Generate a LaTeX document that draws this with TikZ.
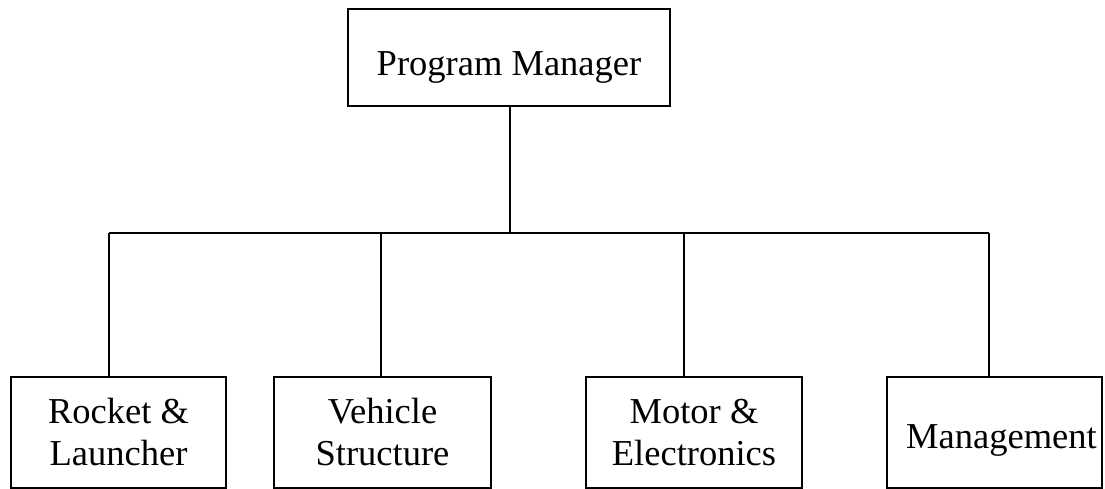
\documentclass[tikz,border=0pt]{standalone}
\usepackage{fontspec}
\setmainfont{Liberation Serif}
\begin{document}
\begin{tikzpicture}[x=1pt,y=-1pt,
  box/.style={draw=black,line width=1.6pt,rectangle,inner sep=0pt,
    align=center,font=\fontsize{36.5}{42}\selectfont},
  conn/.style={draw=black,line width=1.8pt}]
\useasboundingbox (0,0) rectangle (1105,489);
\node[box,minimum width=322pt,minimum height=97pt] (pm) at (509,57.5) {\raisebox{-18.5pt}[0pt][0pt]{Program Manager}};
\node[box,minimum width=215pt,minimum height=111pt] (rl) at (118.5,432.5) {Rocket \&\\Launcher};
\node[box,minimum width=217pt,minimum height=111pt] (vs) at (382.5,432.5) {Vehicle\\Structure};
\node[box,minimum width=216pt,minimum height=111pt] (me) at (694,432.5) {Motor \&\\Electronics};
\node[box,minimum width=215pt,minimum height=111pt] (mg) at (994.5,432.5) {\hspace*{14pt}\raisebox{-16pt}[0pt][0pt]{Management}};
\coordinate (hub) at (510,233);
\coordinate (j1) at (109,233);
\coordinate (j2) at (381,233);
\coordinate (j3) at (684,233);
\coordinate (j4) at (989,233);
\draw[conn] (pm.south -| hub) -- (hub);
\draw[conn] (j1) -- (j4);
\draw[conn] (j1) -- (j1 |- rl.north);
\draw[conn] (j2) -- (j2 |- vs.north);
\draw[conn] (j3) -- (j3 |- me.north);
\draw[conn] (j4) -- (j4 |- mg.north);
\end{tikzpicture}
\end{document}
